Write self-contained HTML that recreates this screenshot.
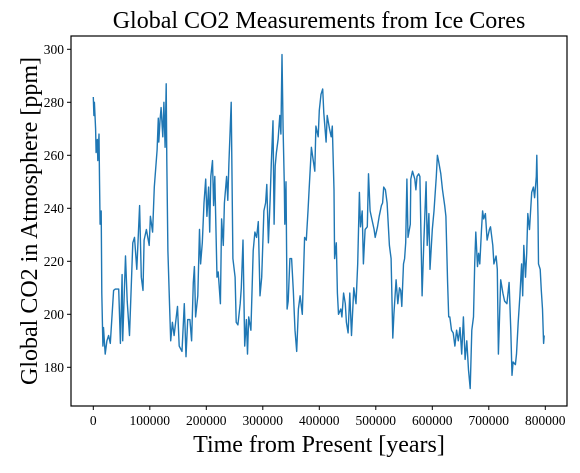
<!DOCTYPE html>
<html><head><meta charset="utf-8"><style>
body{margin:0;background:#fff;}
svg text{font-family:"Liberation Serif",serif;fill:#000;}
</style></head><body>
<svg id="chart" width="580" height="468" xmlns="http://www.w3.org/2000/svg">
<rect width="580" height="468" fill="#fff"/>
<text x="319" y="28" font-size="24" text-anchor="middle">Global CO2 Measurements from Ice Cores</text>
<text x="319" y="452" font-size="24" text-anchor="middle">Time from Present [years]</text>
<text transform="translate(37,221) rotate(-90)" font-size="24" text-anchor="middle">Global CO2 in Atmosphere [ppm]</text>
<g id="xticks"></g>
<g id="yticks"></g>
<path id="line" fill="none" stroke="#1f77b4" stroke-width="1.4" stroke-linejoin="round"/>
<rect x="71" y="36" width="496" height="370" fill="none" stroke="#000" stroke-width="1.2"/>
</svg>
<script>
const ages=[0,1,2,4,5,7,8,10,11,12,14,15,17,18,21,24,27,30,36,39,45,48,51,52,57,60,64,70,73,77,82,85,88,90,94,99,101,105,108,113,115,116,118,120,123,125,127,129,130,132,135,137,140,143,149,152,157,161,164,167,171,174,177,179,181,185,188,190,193,196,199,201,204,206,208,211,213,215,219,221,225,227,230,232,236,238,240,244,247,251,253,256,260,262,265,268,271,273,275,279,283,286,289,292,295,298,302,305,307,310,313,315,318,320,322,324,327,330,332,334,336,338,339,341,343,345,348,351,354,357,360,363,366,370,374,377,380,382,386,388,392,394,398,400,403,406,408,412,414,418,421,423,426,427,430,432,434,438,440,443,446,448,451,454,457,461,465,468,471,473,476,478,481,485,487,490,493,497,499,503,506,510,512,514,517,520,524,527,530,532,536,539,542,544,546,549,551,553,555,557,561,562,565,569,571,573,576,578,582,585,589,591,594,596,600,603,607,609,611,615,618,622,624,627,629,631,634,637,640,643,646,649,652,655,658,661,664,667,670,673,675,677,680,682,684,687,689,691,694,697,701,703,707,709,713,715,717,721,725,728,732,734,736,739,741,743,747,749,752,755,758,760,762,765,767,769,772,774,776,779,781,784,785,787,788,791,793,795,797,798];
const ppm=[282,275,280,270,261,266,258,268,251,234,239,208,188,195,185,190,192,189,209,209.5,209.5,189,215,190,222,205,192,227,229,217,241,214,209,228,232,226,237,231,248,262,274,265,273,278,267,280,263,287,258,224,203,190,197,192,203,188,186,204,184,198,198,190,212,218,199,207,232,219,227,242,251,237,248,231,252,258,241,252,214,216,204,236,226,242,252,243,257,280,221,214,197,196,204,210,228,188,198,185,199,194,224,231,229,235,207,214,239,242,249,227,243,257,273,234,256,261,266,275,268,298,270,249,234,250,202,205,221,221,209,194,186,202,207,200,229,228,239,247,263,260,254,271,267,277,283,285,276,265,275,270,267,271,247,221,227,208,200,202,199,208,204,197,193,208,192,210,204,219,246,233,239,219,232,233,253,239,236,232,229,233,237,241,242,248,247,242,226,221,191,200,213,204,210,209,203,219,221,227,251,229,234,251,254,251,247,252,253,252,207,227,250,226,238,217,232,239,252,260,258,253,247,241,237,212,199,199,194,193,188,194,190,195,185,199,183,190,179,172,194,199,219,231,218,223,219,232,239,236,238,228,232,233,226,219,222,217,185,213,208,205,204,208,212,194,177,182,181,185,197,207,219,207,226,214,223,238,232,239,246,248,244,252,260,237,219,217,209,202,189,192];
const xTicks=[0,100000,200000,300000,400000,500000,600000,700000,800000];
const yTicks=[180,200,220,240,260,280,300];
const X=a=>93.3+a*0.000565;
const Y=v=>49.3+(300-v)*2.65;
const NS='http://www.w3.org/2000/svg';
let d='';
for(let i=0;i<ages.length;i++){d+=(i?'L':'M')+X(ages[i]*1000).toFixed(1)+','+Y(ppm[i]).toFixed(1);}
document.getElementById('line').setAttribute('d',d);
const xg=document.getElementById('xticks');
xTicks.forEach(t=>{
 const l=document.createElementNS(NS,'line');
 
 
 l.setAttribute('x1',X(t));l.setAttribute('x2',X(t));l.setAttribute('y1',406);l.setAttribute('y2',410);l.setAttribute('stroke','#000');
 xg.appendChild(l);
 const tx=document.createElementNS(NS,'text');
 
 
 tx.setAttribute('x',X(t));tx.setAttribute('y',425);tx.setAttribute('font-size','13.5');tx.setAttribute('text-anchor','middle');
 tx.textContent=t;xg.appendChild(tx);
});
const yg=document.getElementById('yticks');
yTicks.forEach(t=>{
 const l=document.createElementNS(NS,'line');
 
 
 l.setAttribute('x1',67);l.setAttribute('x2',71);l.setAttribute('y1',Y(t));l.setAttribute('y2',Y(t));l.setAttribute('stroke','#000');
 yg.appendChild(l);
 const tx=document.createElementNS(NS,'text');
 
 
 tx.setAttribute('x',64);tx.setAttribute('y',Y(t)+4.5);tx.setAttribute('font-size','13.5');tx.setAttribute('text-anchor','end');
 tx.textContent=t;yg.appendChild(tx);
});
</script>
</body></html>
